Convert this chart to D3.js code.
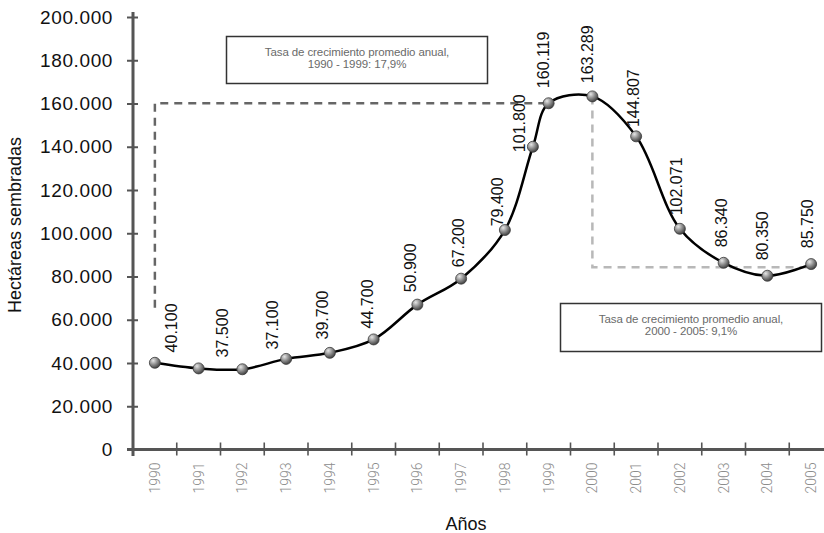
<!DOCTYPE html>
<html><head><meta charset="utf-8">
<script src="https://cdn.jsdelivr.net/npm/d3@7"></script>
<style>
html,body{margin:0;padding:0;background:#fff;}
svg{display:block;font-family:"Liberation Sans",Arial,Helvetica,sans-serif;}
</style></head>
<body>
<svg id="chart" width="824" height="533"></svg>
<script>
// ---- data ----
const years = [1990,1991,1992,1993,1994,1995,1996,1997,1998,1999,2000,2001,2002,2003,2004,2005];
// points of the smoothed line (x in years, as drawn)
const pointYears  = [1990,1991,1992,1993,1994,1995,1996,1997,1998,1998.64,1999,2000,2001,2002,2003,2004,2005];
const pointValues = [40100,37500,37100,41900,44700,50900,67000,79000,101500,140000,160119,163289,144807,102071,86340,80350,85750];
// data labels as printed, with their anchor in data units
const labelTexts  = ["40.100","37.500","37.100","39.700","44.700","50.900","67.200","79.400","101.800","160.119","163.289","144.807","102.071","86.340","80.350","85.750"];
const labelYears  = [1990.39,1991.55,1992.68,1993.82,1994.86,1995.84,1996.93,1997.84,1998.34,1998.89,1999.89,2000.95,2001.93,2002.95,2003.89,2004.91];
const labelValues = [44900,42600,46300,50900,56000,72700,84300,103200,137500,167100,169400,149100,108300,93500,87500,93100];
const yTicks = [0,20000,40000,60000,80000,100000,120000,140000,160000,180000,200000];
const yTickLabels = ["0","20.000","40.000","60.000","80.000","100.000","120.000","140.000","160.000","180.000","200.000"];
const guide1 = [[1990,65500],[1990,160119],[1999,160119]];
const guide2 = [[2000,163289],[2000,84300],[2005,84300]];
const note1 = ["Tasa de crecimiento promedio anual,","1990 - 1999: 17,9%"];
const note2 = ["Tasa de crecimiento promedio anual,","2000 - 2005: 9,1%"];

// ---- scales ----
const svg = d3.select("#chart");
const x = d3.scaleLinear().domain([1989.5, 2005.5]).range([133, 833]);
const y = d3.scaleLinear().domain([0, 200000]).range([449.5, 17]);

const defs = svg.append("defs");
const grad = defs.append("radialGradient").attr("id","ball").attr("cx","35%").attr("cy","30%").attr("r","70%");
grad.append("stop").attr("offset","0%").attr("stop-color","#e6e6e6");
grad.append("stop").attr("offset","55%").attr("stop-color","#8a8a8a");
grad.append("stop").attr("offset","100%").attr("stop-color","#444");

// ---- guides (dashed) ----
const gl = d3.line().x(d=>x(d[0])).y(d=>y(d[1]));
svg.append("path").attr("d", gl(guide1)).attr("fill","none")
  .attr("stroke","#666").attr("stroke-width",2.5).attr("stroke-dasharray","8,6");
svg.append("path").attr("d", gl(guide2)).attr("fill","none")
  .attr("stroke","#b8b8b8").attr("stroke-width",2.5).attr("stroke-dasharray","8,6");

// ---- axes ----
const axisColor = "#555";
const yAxis = d3.axisLeft(y).tickValues(yTicks).tickSize(0).tickFormat((d,i)=>yTickLabels[i]);
const gy = svg.append("g").attr("transform","translate(133,0)").call(yAxis);
gy.select(".domain").remove();
gy.selectAll(".tick text").attr("x",-20).attr("fill","#111")
  .style("font-size","19px").style("letter-spacing","0.6px").attr("font-family","'Liberation Sans',Arial,sans-serif");
gy.selectAll(".tick").append("line").attr("x1",-6).attr("x2",5).attr("stroke",axisColor).attr("stroke-width",2);
svg.append("line").attr("x1",133).attr("x2",133).attr("y1",12).attr("y2",456)
  .attr("stroke",axisColor).attr("stroke-width",3);

const xTickPos = years.slice(0,15).map(v=>v+0.5);
const gx = svg.append("g").attr("transform","translate(0,"+y(0)+")");
gx.append("line").attr("x1",127).attr("x2",824).attr("stroke",axisColor).attr("stroke-width",3);
gx.selectAll("line.t").data(xTickPos).join("line").attr("class","t")
  .attr("x1",d=>x(d)).attr("x2",d=>x(d)).attr("y1",-7).attr("y2",6)
  .attr("stroke",axisColor).attr("stroke-width",1.6);
gx.selectAll("text").data(years).join("text")
  .attr("transform",d=>"translate("+x(d)+",13) rotate(-90)")
  .attr("text-anchor","end").attr("dominant-baseline","central")
  .attr("fill","#8c8c8c").style("font-size","14px").style("font-weight","300")
  .attr("font-family","Roboto, 'Liberation Sans', sans-serif")
  .text(d=>d);

// axis titles
svg.append("text").attr("x",466).attr("y",530).attr("text-anchor","middle")
  .style("font-size","18px").attr("fill","#111").text("Años");
svg.append("text").attr("transform","translate(15,225) rotate(-90)")
  .attr("text-anchor","middle").attr("dominant-baseline","central")
  .style("font-size","18px").attr("fill","#111").text("Hectáreas sembradas");

// ---- note boxes ----
function note(x0,y0,w,h,lines){
  svg.append("rect").attr("x",x0).attr("y",y0).attr("width",w).attr("height",h)
    .attr("fill","#fff").attr("stroke","#333").attr("stroke-width",1.5);
  lines.forEach((t,i)=>{
    svg.append("text").attr("x",x0+w/2).attr("y",y0+19+i*12.5).attr("text-anchor","middle")
      .attr("fill","#6a6a6a").style("font-size","11.5px").style("letter-spacing","-0.1px")
      .attr("font-family","'Liberation Sans',Arial,sans-serif").text(t);
  });
}
note(226.5,36.5,261,47,note1);
note(560.5,303.5,261,48,note2);

// ---- line + points ----
const pts = pointYears.map((yr,i)=>({yr, v: pointValues[i]}));
const line = d3.line().x(d=>x(d.yr)).y(d=>y(d.v)).curve(d3.curveCatmullRom.alpha(0.5));
svg.append("path").attr("d", line(pts)).attr("fill","none").attr("stroke","#000").attr("stroke-width",2.5);
svg.selectAll("circle.p").data(pts).join("circle").attr("class","p")
  .attr("cx",d=>x(d.yr)).attr("cy",d=>y(d.v)).attr("r",5.5)
  .attr("fill","url(#ball)").attr("stroke","#3a3a3a").attr("stroke-width",0.8);

// ---- data labels ----
svg.selectAll("text.lbl").data(labelTexts).join("text").attr("class","lbl")
  .attr("transform",(d,i)=>"translate("+x(labelYears[i])+","+y(labelValues[i])+") rotate(-90)")
  .attr("text-anchor","start").attr("dominant-baseline","central")
  .style("font-size","16px").attr("fill","#111").text(d=>d);
</script>
</body></html>
